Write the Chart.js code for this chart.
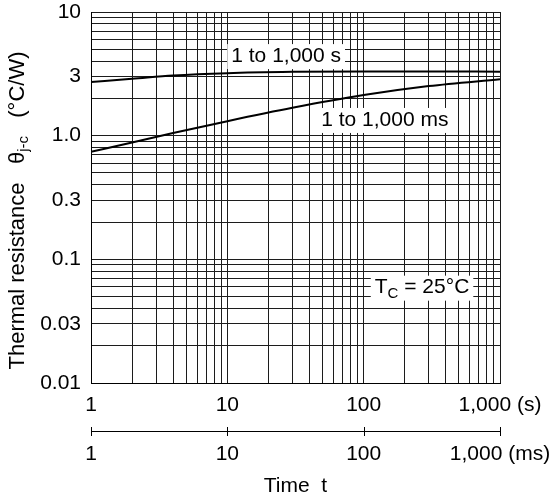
<!DOCTYPE html>
<html>
<head>
<meta charset="utf-8">
<script src="https://cdn.jsdelivr.net/npm/chart.js@4/dist/chart.umd.min.js"></script>
<style>
  html, body { margin: 0; padding: 0; background: #fff; }
  #wrap { width: 552px; height: 502px; }
</style>
</head>
<body>
<div id="wrap"><canvas id="thermalChart"></canvas></div>
<script>
// Time values where the curves were read (s for the upper curve, ms for the lower one)
const timePoints = [1, 2, 4, 10, 30, 100, 300, 1000];
const rthSeconds = [2.72, 2.88, 3.06, 3.2, 3.28, 3.31, 3.31, 3.29];
const rthMillis = [0.74, 0.88, 1.05, 1.31, 1.68, 2.13, 2.52, 2.86];

// Grid lines of the log paper
const xGridValues = [1, 2, 3, 4, 5, 6, 7, 8, 9,
  10, 20, 30, 40, 50, 60, 70, 80, 90,
  100, 200, 300, 400, 500, 600, 700, 800, 900, 1000];
const yGridValues = [0.01, 0.02, 0.03, 0.04, 0.05, 0.06, 0.07, 0.08, 0.09,
  0.1, 0.2, 0.3, 0.4, 0.5, 0.6, 0.7, 0.8, 0.9,
  1, 2, 3, 4, 5, 6, 7, 8, 9, 10];

// Tick labels
const xTickValues = [1, 10, 100, 1000];
const xTickLabelsSec = ["1", "10", "100", "1,000 (s)"];
const xTickLabelsMs = ["1", "10", "100", "1,000 (ms)"];
const yTickValues = [0.01, 0.03, 0.1, 0.3, 1, 3, 10];
const yTickLabels = ["0.01", "0.03", "0.1", "0.3", "1.0", "3", "10"];

const FONT = "'Liberation Sans', Arial, Helvetica, sans-serif";
const GRID = "#1c1c1c";

function labelFor(value, values, labels) {
  const i = values.findIndex((v) => Math.abs(v - value) < v * 1e-6);
  return i >= 0 ? labels[i] : "";
}

function toPoints(xs, ys) {
  return xs.map((x, i) => ({ x: x, y: ys[i] }));
}

// Text boxes on the plot, placed in data coordinates
const notes = [
  { parts: [["1 to 1,000 s", 0]], x: 27, y: 4.4 },
  { parts: [["1 to 1,000 ms", 0]], x: 143, y: 1.34 },
  { parts: [["T", 0], ["C", 1], [" = 25°C", 0]], x: 268, y: 0.059 },
];

function partsWidth(ctx, parts, size) {
  let w = 0;
  parts.forEach(([t, sub]) => {
    ctx.font = (sub ? Math.round(size * 0.7) : size) + "px " + FONT;
    w += ctx.measureText(t).width;
  });
  return w;
}

function drawParts(ctx, parts, x, y, size) {
  parts.forEach(([t, sub]) => {
    ctx.font = (sub ? Math.round(size * 0.7) : size) + "px " + FONT;
    ctx.fillText(t, x, sub ? y + 6 : y);
    x += ctx.measureText(t).width;
  });
}

const notesPlugin = {
  id: "notes",
  afterDatasetsDraw(chart) {
    const ctx = chart.ctx;
    const xs = chart.scales.x;
    const ys = chart.scales.y;
    ctx.save();
    ctx.textBaseline = "middle";
    ctx.textAlign = "left";
    notes.forEach((n) => {
      const cx = xs.getPixelForValue(n.x);
      const cy = ys.getPixelForValue(n.y);
      const w = partsWidth(ctx, n.parts, 21);
      ctx.fillStyle = "#fff";
      ctx.fillRect(cx - w / 2 - 4, cy - 12, w + 8, 25);
      ctx.fillStyle = "#000";
      drawParts(ctx, n.parts, cx - w / 2, cy, 21);
    });
    ctx.restore();
  },
  afterDraw(chart) {
    const ctx = chart.ctx;
    const area = chart.chartArea;
    // tick marks crossing the ms axis line
    const x2 = chart.scales.x2;
    ctx.save();
    ctx.strokeStyle = "#000";
    ctx.lineWidth = 1;
    x2.ticks.forEach((t) => {
      const px = Math.round(x2.getPixelForValue(t.value)) + 0.5;
      ctx.beginPath();
      ctx.moveTo(px, x2.top - 4);
      ctx.lineTo(px, x2.top + 5);
      ctx.stroke();
    });
    // y axis title with subscript
    const parts = [["Thermal resistance   θ", 0], ["j-c", 1], ["   (°C/W)", 0]];
    ctx.translate(18, (area.top + area.bottom) / 2 + 13);
    ctx.rotate(-Math.PI / 2);
    ctx.textBaseline = "middle";
    ctx.fillStyle = "#000";
    const w = partsWidth(ctx, parts, 22);
    drawParts(ctx, parts, -w / 2, 0, 22);
    ctx.restore();
  },
};

const ctx = document.getElementById("thermalChart").getContext("2d");

new Chart(ctx, {
  type: "line",
  data: {
    datasets: [
      {
        label: "1 to 1,000 s",
        data: toPoints(timePoints, rthSeconds),
        borderColor: "#000",
        borderWidth: 2,
        pointRadius: 0,
        cubicInterpolationMode: "monotone",
      },
      {
        label: "1 to 1,000 ms",
        data: toPoints(timePoints, rthMillis),
        borderColor: "#000",
        borderWidth: 2,
        pointRadius: 0,
        cubicInterpolationMode: "monotone",
      },
    ],
  },
  options: {
    responsive: true,
    maintainAspectRatio: false,
    animation: false,
    layout: { padding: { left: 0, right: 52, top: 12, bottom: 0 } },
    plugins: {
      legend: { display: false },
      tooltip: { enabled: false },
    },
    scales: {
      x: {
        type: "logarithmic",
        position: "bottom",
        min: 1,
        max: 1000,
        weight: 1,
        grid: { color: GRID, lineWidth: 1, drawTicks: false },
        border: { color: "#000", width: 1 },
        afterBuildTicks: (s) => { s.ticks = xGridValues.map((v) => ({ value: v })); },
        afterFit: (s) => { s.height = 48; s.paddingLeft = 0; s.paddingRight = 0; },
        ticks: {
          autoSkip: false,
          maxRotation: 0,
          padding: 10,
          color: "#000",
          font: { family: FONT, size: 21 },
          callback: (v) => labelFor(v, xTickValues, xTickLabelsSec),
        },
      },
      x2: {
        type: "logarithmic",
        position: "bottom",
        min: 1,
        max: 1000,
        weight: 2,
        grid: { display: false, drawTicks: false },
        border: { display: true, color: "#000", width: 1 },
        afterBuildTicks: (s) => { s.ticks = xTickValues.map((v) => ({ value: v })); },
        afterFit: (s) => { s.height = 71; s.paddingLeft = 0; s.paddingRight = 0; },
        ticks: {
          autoSkip: false,
          maxRotation: 0,
          padding: 11,
          color: "#000",
          font: { family: FONT, size: 21 },
          callback: (v) => labelFor(v, xTickValues, xTickLabelsMs),
        },
        title: {
          display: true,
          text: "Time  t",
          color: "#000",
          font: { family: FONT, size: 21 },
          padding: { top: 0, bottom: 3 },
        },
      },
      y: {
        type: "logarithmic",
        position: "left",
        min: 0.01,
        max: 10,
        grid: { color: GRID, lineWidth: 1, drawTicks: false },
        border: { color: "#000", width: 1 },
        afterBuildTicks: (s) => { s.ticks = yGridValues.map((v) => ({ value: v })); },
        afterFit: (s) => { s.width = 91; s.paddingTop = 0; s.paddingBottom = 0; },
        ticks: {
          autoSkip: false,
          padding: 10,
          color: "#000",
          font: { family: FONT, size: 21 },
          callback: (v) => labelFor(v, yTickValues, yTickLabels),
        },
      },
    },
  },
  plugins: [notesPlugin],
});
</script>
</body>
</html>
